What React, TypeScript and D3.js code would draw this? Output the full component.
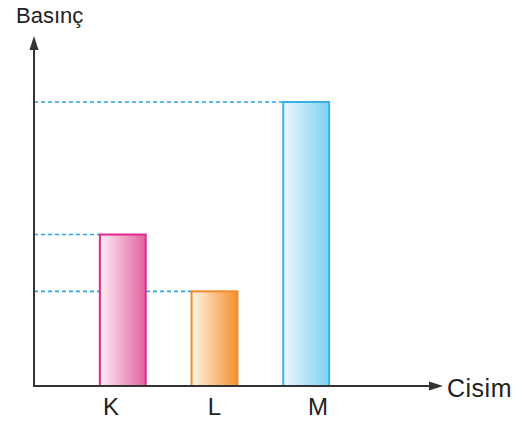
import React from "react";
import * as d3 from "d3";

const categories = ["K", "L", "M"];
const values = [8, 5, 15];
const strokeColors = ["#e6268c", "#f28a2a", "#3ab0e6"];
const gradStart = ["#fdeef5", "#fff5ea", "#eef8fe"];
const gradEnd = ["#e0639f", "#f58f2f", "#7ecff2"];
const yAxisTitle = "Basınç";
const xAxisTitle = "Cisim";

export default function App() {
  const W = 528, H = 426;
  const x0 = 34, y0 = 386;
  const x = d3.scaleBand<string>().domain(categories).range([54, 375]).paddingInner(0.5).paddingOuter(0.5);
  const labelX = d3.scalePoint<string>().domain(categories).range([111, 318]);
  const y = d3.scaleLinear().domain([0, 15]).range([y0, 102]);
  const axisColor = "#333";
  const dash = "#2aa7df";
  return (
    <svg width={W} height={H} style={{ position: "absolute", left: 0, top: 0, background: "#fff" }}
      fontFamily="'Liberation Sans', Arial, sans-serif">
      <defs>
        {categories.map((c, i) => (
          <linearGradient key={c} id={`g${i}`} x1="0" x2="1" y1="0" y2="0">
            <stop offset="0" stopColor={gradStart[i]} />
            <stop offset="1" stopColor={gradEnd[i]} />
          </linearGradient>
        ))}
      </defs>
      {categories.map((c, i) => (
        <line key={"d" + c} x1={x0} x2={x(c)!} y1={y(values[i])} y2={y(values[i])}
          stroke={dash} strokeWidth={1.6} strokeDasharray="4 3" />
      ))}
      {categories.map((c, i) => (
        <rect key={"b" + c} x={x(c)!} y={y(values[i])} width={x.bandwidth()} height={y0 - y(values[i])}
          fill={`url(#g${i})`} stroke={strokeColors[i]} strokeWidth={2} />
      ))}
      <line x1={x0} x2={x0} y1={y0 + 1} y2={48} stroke={axisColor} strokeWidth={2} />
      <path d={`M${x0},36 L${x0 - 4.5},50 L${x0 + 4.5},50 Z`} fill={axisColor} />
      <line x1={x0 - 1} x2={430} y1={y0} y2={y0} stroke={axisColor} strokeWidth={2} />
      <path d={`M443,${y0} L429,${y0 - 4.5} L429,${y0 + 4.5} Z`} fill={axisColor} />
      {categories.map((c) => (
        <text key={"l" + c} x={labelX(c)!} y={415} textAnchor="middle" fontSize={24} fill="#222">{c}</text>
      ))}
      <text x={447} y={397} fontSize={25} fill="#222" letterSpacing={0.5}>{xAxisTitle}</text>
      <text x={16} y={23} fontSize={22} fill="#222">{yAxisTitle}</text>
    </svg>
  );
}
